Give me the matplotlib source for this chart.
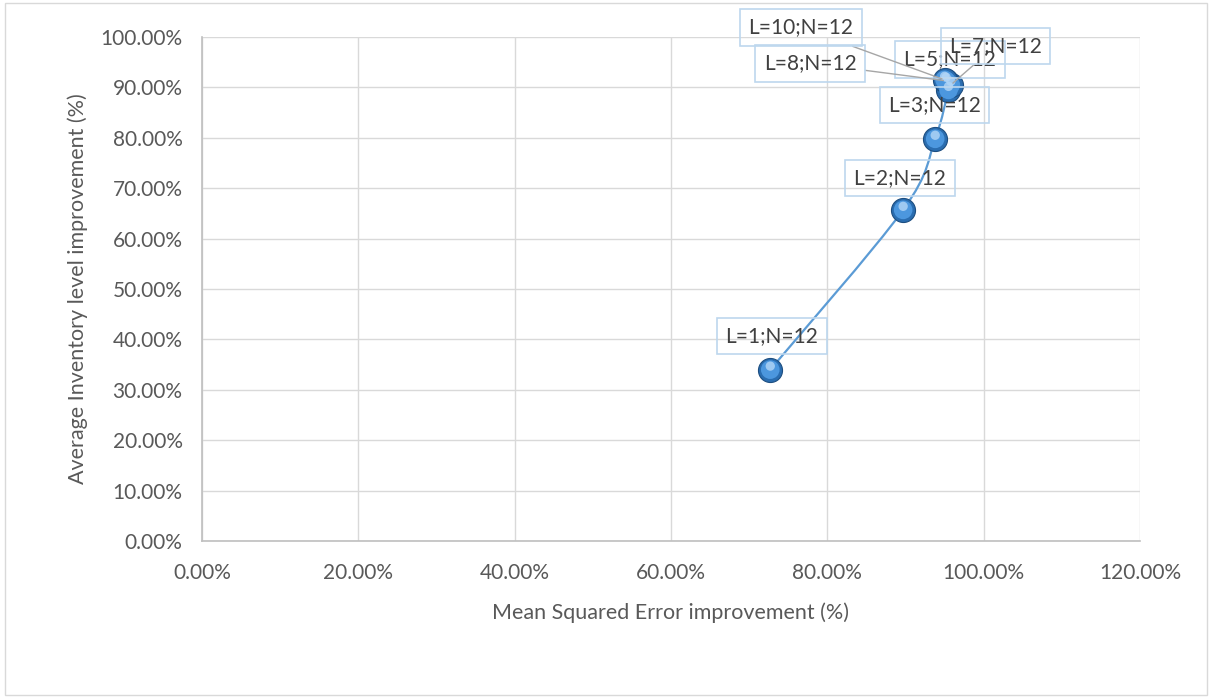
import matplotlib
matplotlib.use("Agg")
import matplotlib.pyplot as plt
from matplotlib.path import Path
from matplotlib.patches import PathPatch, Rectangle
from matplotlib.ticker import FuncFormatter
import numpy as np

plt.rcParams['font.family'] = ['Lato', 'DejaVu Sans']

# Data (percent)
labels = ['L=1;N=12', 'L=2;N=12', 'L=3;N=12', 'L=5;N=12', 'L=7;N=12', 'L=8;N=12', 'L=10;N=12']
mse_improvement = [72.7, 89.7, 93.8, 95.5, 95.8, 95.2, 95.0]
inventory_improvement = [34.0, 65.7, 79.8, 89.5, 90.5, 91.3, 91.5]

# label positions (data coords) and whether they get a leader line
label_pos = [(72.9, 40.7), (89.3, 72.0), (93.7, 86.5), (95.7, 95.6),
             (101.5, 98.2), (77.8, 94.8), (76.6, 101.9)]
leader = [False, False, False, False, True, True, True]

fs = 15

fig = plt.figure(figsize=(12.11, 6.98), dpi=100)
fig.patches.append(Rectangle((0.004, 0.004), 0.993, 0.991, transform=fig.transFigure,
                             fill=False, edgecolor='#D9D9D9', linewidth=1.0))
ax = fig.add_axes([202 / 1211, 1 - 541 / 698, (1140 - 202) / 1211, (541 - 37) / 698])

# smooth line like Excel (Catmull-Rom -> Bezier)
pts = np.column_stack([mse_improvement, inventory_improvement])
verts = [pts[0]]
codes = [Path.MOVETO]
n = len(pts)
for i in range(n - 1):
    p0 = pts[max(i - 1, 0)]
    p1 = pts[i]
    p2 = pts[i + 1]
    p3 = pts[min(i + 2, n - 1)]
    c1 = p1 + (p2 - p0) / 6.0
    c2 = p2 - (p3 - p1) / 6.0
    verts += [c1, c2, p2]
    codes += [Path.CURVE4] * 3
ax.add_patch(PathPatch(Path(verts, codes), facecolor='none', edgecolor='#5B9BD5',
                       linewidth=1.6, zorder=3))

# spheres
ax.scatter(mse_improvement, inventory_improvement, s=300, color='#2A6DB0',
           edgecolors='#1D4E80', linewidths=0.8, zorder=4)
ax.scatter(mse_improvement, inventory_improvement, s=180, color='#4C97DE',
           edgecolors='none', zorder=5)
ax.scatter(mse_improvement, [v + 0.7 for v in inventory_improvement], s=45,
           color='#B3D6F7', edgecolors='none', alpha=0.8, zorder=6)

for i, lab in enumerate(labels):
    tx, ty = label_pos[i]
    box = dict(boxstyle='square,pad=0.4', facecolor='none', edgecolor='#BDD7EE', linewidth=1.2)
    if leader[i]:
        ax.annotate(lab, xy=(mse_improvement[i], inventory_improvement[i]), xytext=(tx, ty),
                    ha='center', va='center', fontsize=fs, color='#404040', zorder=7, bbox=box,
                    arrowprops=dict(arrowstyle='-', color='#A6A6A6', linewidth=1.0,
                                    shrinkA=0, shrinkB=2))
    else:
        ax.text(tx, ty, lab, ha='center', va='center', fontsize=fs, color='#404040', zorder=7,
                bbox=box)

ax.set_xlim(0, 120)
ax.set_ylim(0, 100)
ax.set_xticks(np.arange(0, 121, 20))
ax.set_yticks(np.arange(0, 101, 10))
pct = FuncFormatter(lambda v, p: '{:.2f}%'.format(v))
ax.xaxis.set_major_formatter(pct)
ax.yaxis.set_major_formatter(pct)
ax.grid(True, color='#D9D9D9', linewidth=1.0, zorder=0)
ax.set_axisbelow(True)
for s in ['top', 'right']:
    ax.spines[s].set_visible(False)
for s in ['left', 'bottom']:
    ax.spines[s].set_color('#BFBFBF')
    ax.spines[s].set_linewidth(1.2)
ax.tick_params(axis='both', length=0, labelsize=fs, labelcolor='#595959')
ax.tick_params(axis='x', pad=16)
ax.tick_params(axis='y', pad=14)

ax.set_xlabel('Mean Squared Error improvement (%)', fontsize=15.5, color='#595959', labelpad=14)
ax.set_ylabel('Average Inventory level improvement (%)', fontsize=15.5, color='#595959', labelpad=9)

fig.savefig('out.png', dpi=100, facecolor='white')
